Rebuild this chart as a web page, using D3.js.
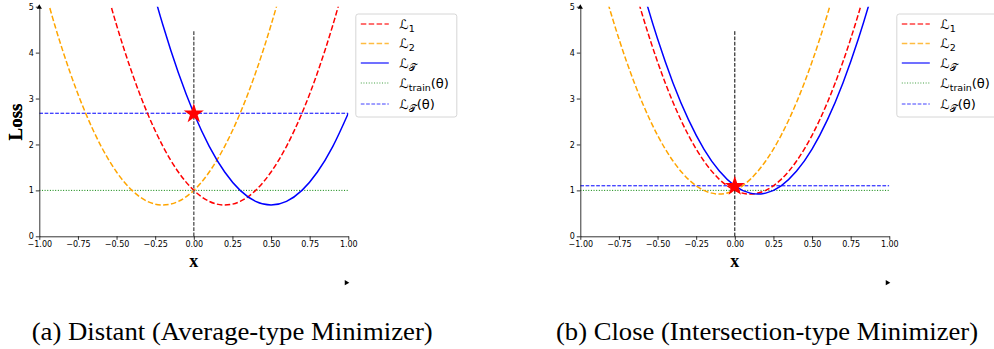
<!DOCTYPE html>
<html>
<head>
<meta charset="utf-8">
<script src="https://cdn.jsdelivr.net/npm/d3@7"></script>
<style>
  body { margin: 0; background: #fff; }
  svg text { font-family: "DejaVu Sans", sans-serif; }
  svg text.serif { font-family: "Liberation Serif", "Times New Roman", Times, serif; }
</style>
</head>
<body>
<svg id="chart" width="994" height="349"></svg>
<script>
// shared x grid
var xs = [-1.0, -0.9, -0.8, -0.7, -0.6, -0.5, -0.4, -0.3, -0.2, -0.1, 0.0,
          0.1, 0.2, 0.3, 0.4, 0.5, 0.6, 0.7, 0.8, 0.9, 1.0];

// (a) distant
var distL1 = [12.20, 10.36, 8.68, 7.16, 5.80, 4.60, 3.56, 2.68, 1.96, 1.40, 1.00,
              0.76, 0.68, 0.76, 1.00, 1.40, 1.96, 2.68, 3.56, 4.60, 5.80];
var distL2 = [5.80, 4.60, 3.56, 2.68, 1.96, 1.40, 1.00, 0.76, 0.68, 0.76, 1.00,
              1.40, 1.96, 2.68, 3.56, 4.60, 5.80, 7.16, 8.68, 10.36, 12.20];
var distLT = [18.68, 16.36, 14.20, 12.20, 10.36, 8.68, 7.16, 5.80, 4.60, 3.56, 2.68,
              1.96, 1.40, 1.00, 0.76, 0.68, 0.76, 1.00, 1.40, 1.96, 2.68];
var distTrain = 1.00;
var distTheta = 2.68;

// (b) close
var closeL1 = [10.60, 8.92, 7.40, 6.04, 4.84, 3.80, 2.92, 2.20, 1.64, 1.24, 1.00,
               0.92, 1.00, 1.24, 1.64, 2.20, 2.92, 3.80, 4.84, 6.04, 7.40];
var closeL2 = [7.40, 6.04, 4.84, 3.80, 2.92, 2.20, 1.64, 1.24, 1.00, 0.92, 1.00,
               1.24, 1.64, 2.20, 2.92, 3.80, 4.84, 6.04, 7.40, 8.92, 10.60];
var closeLT = [11.50, 9.74, 8.14, 6.70, 5.42, 4.30, 3.34, 2.54, 1.90, 1.42, 1.10,
               0.94, 0.94, 1.10, 1.42, 1.90, 2.54, 3.34, 4.30, 5.42, 6.70];
var closeTrain = 1.00;
var closeTheta = 1.10;

var xTicks = [-1.00, -0.75, -0.50, -0.25, 0.00, 0.25, 0.50, 0.75, 1.00];
var yTicks = [0, 1, 2, 3, 4, 5];
var captions = ["(a) Distant (Average-type Minimizer)", "(b) Close (Intersection-type Minimizer)"];

var svg = d3.select("#chart");

function drawPanel(idx, left, l1, l2, lt, train, theta, vColor, vWidth) {
    var x = d3.scaleLinear().domain([-1, 1]).range([left, left + 309]);
    var y = d3.scaleLinear().domain([0, 5]).range([236.3, 6.7]);
    var g = svg.append("g");

    var clipId = "clip" + idx;
    svg.append("clipPath").attr("id", clipId)
        .append("rect")
        .attr("x", x(-1)).attr("y", y(5))
        .attr("width", x(1) - x(-1)).attr("height", y(0) - y(5));

    var line = d3.line()
        .x((d, i) => x(xs[i]))
        .y(d => y(d))
        .curve(d3.curveCardinal.tension(0));

    var plot = g.append("g").attr("clip-path", "url(#" + clipId + ")");

    // horizontal reference lines
    plot.append("line")
        .attr("x1", x(-1)).attr("x2", x(1))
        .attr("y1", y(train)).attr("y2", y(train))
        .attr("stroke", "green").attr("stroke-width", 1)
        .attr("stroke-dasharray", "1,1.65");
    plot.append("line")
        .attr("x1", x(-1)).attr("x2", x(1))
        .attr("y1", y(theta)).attr("y2", y(theta))
        .attr("stroke", "blue").attr("stroke-width", 1)
        .attr("stroke-dasharray", "3.7,1.6");

    plot.append("path").datum(l2).attr("d", line)
        .attr("fill", "none").attr("stroke", "orange").attr("stroke-width", 1.5)
        .attr("stroke-dasharray", "5.5,2.4");
    plot.append("path").datum(l1).attr("d", line)
        .attr("fill", "none").attr("stroke", "red").attr("stroke-width", 1.5)
        .attr("stroke-dasharray", "5.5,2.4");
    plot.append("path").datum(lt).attr("d", line)
        .attr("fill", "none").attr("stroke", "blue").attr("stroke-width", 1.5);

    // vertical line at x = 0
    g.append("line")
        .attr("x1", x(0)).attr("x2", x(0))
        .attr("y1", y(0)).attr("y2", y(4.5))
        .attr("stroke", vColor).attr("stroke-width", vWidth)
        .attr("stroke-dasharray", "3.7,1.6");

    // star at current theta
    g.append("path")
        .attr("d", d3.symbol(d3.symbolStar, 125)())
        .attr("transform", `translate(${x(0)},${y(theta) + 0.5})`)
        .attr("fill", "red");

    // axes
    var xAxis = g.append("g")
        .attr("transform", `translate(0,${y(0)})`)
        .call(d3.axisBottom(x).tickValues(xTicks).tickSize(3.5).tickSizeOuter(0)
            .tickFormat(d => d3.format(".2f")(d).replace("-", "\u2212")));
    var yAxis = g.append("g")
        .attr("transform", `translate(${x(-1)},0)`)
        .call(d3.axisLeft(y).tickValues(yTicks).tickSize(3.5).tickSizeOuter(0)
            .tickFormat(d3.format("d")));
    [xAxis, yAxis].forEach(a => {
        a.select(".domain").attr("stroke", "#000").attr("stroke-width", 0.8);
        a.selectAll(".tick line").attr("stroke", "#000").attr("stroke-width", 0.8);
        a.selectAll(".tick text").attr("font-size", 8)
            .attr("font-family", "DejaVu Sans").attr("fill", "#000");
    });
    xAxis.selectAll(".tick text").attr("dy", "0.75em").attr("y", 5);
    yAxis.selectAll(".tick text").attr("x", -5.5);

    // arrow heads
    g.append("path")
        .attr("d", d3.symbol(d3.symbolTriangle, 12)())
        .attr("transform", `translate(${x(-1)},${y(5) + 0.5})`)
        .attr("fill", "#000");
    g.append("path")
        .attr("d", d3.symbol(d3.symbolTriangle, 12)())
        .attr("transform", `translate(${x(1) - 2},282.7) rotate(90)`)
        .attr("fill", "#000");

    // axis labels
    g.append("text").attr("class", "serif")
        .attr("x", x(0)).attr("y", 267)
        .attr("text-anchor", "middle")
        .style("font-weight", "bold").style("font-size", "18px")
        .text("x");
    g.append("text").attr("class", "serif")
        .attr("transform", `translate(21.5,${y(2.5) + 0.5}) rotate(-90)`)
        .attr("text-anchor", "middle")
        .style("font-weight", "bold").style("font-size", "19px")
        .text("Loss");

    // legend
    var lx = x(1) + 7.5;
    var legend = g.append("g").attr("transform", `translate(${lx},14)`);
    legend.append("rect")
        .attr("x", 0).attr("y", 0).attr("width", 101).attr("height", 103)
        .attr("rx", 2.5)
        .attr("fill", "#fff").attr("fill-opacity", 0.8)
        .attr("stroke", "#ccc").attr("stroke-width", 0.8);
    var items = [
        {label: [["\u2112", 0], ["1", 1]], color: "red", w: 1.5, dash: "5.5,2.4"},
        {label: [["\u2112", 0], ["2", 1]], color: "orange", w: 1.5, dash: "5.5,2.4"},
        {label: [["\u2112", 0], ["\uD835\uDCAF", 1]], color: "blue", w: 1.5, dash: null},
        {label: [["\u2112", 0], ["train", 1], ["(\u03B8)", 0]], color: "green", w: 1, dash: "1,1.65"},
        {label: [["\u2112", 0], ["\uD835\uDCAF", 1], ["(\u03B8)", 0]], color: "blue", w: 1, dash: "3.7,1.6"}
    ];
    var rowY = [10, 29.5, 49, 69, 90];
    items.forEach((it, i) => {
        legend.append("line")
            .attr("x1", 5).attr("x2", 33)
            .attr("y1", rowY[i]).attr("y2", rowY[i])
            .attr("stroke", it.color).attr("stroke-width", it.w)
            .attr("stroke-opacity", 0.75)
            .attr("stroke-dasharray", it.dash);
        var t = legend.append("text")
            .attr("x", 43.5).attr("y", rowY[i] + 4.5)
            .style("font-size", "13px");
        it.label.forEach(p => {
            var sp = t.append("tspan").text(p[0]);
            if (p[1]) sp.attr("dy", 3).style("font-size", "9.5px");
            else if (t.selectAll("tspan").size() > 1) sp.attr("dy", -3);
        });
    });

    // caption
    svg.append("text").attr("class", "serif")
        .attr("x", idx === 0 ? 31.7 : 556).attr("y", 340)
        .attr("textLength", idx === 0 ? 401 : 422)
        .attr("lengthAdjust", "spacingAndGlyphs")
        .style("font-size", "26px")
        .text(captions[idx]);
}

drawPanel(0, 39.3, distL1, distL2, distLT, distTrain, distTheta, "#666", 1.5);
drawPanel(1, 580.3, closeL1, closeL2, closeLT, closeTrain, closeTheta, "#000", 1);
</script>
</body>
</html>
